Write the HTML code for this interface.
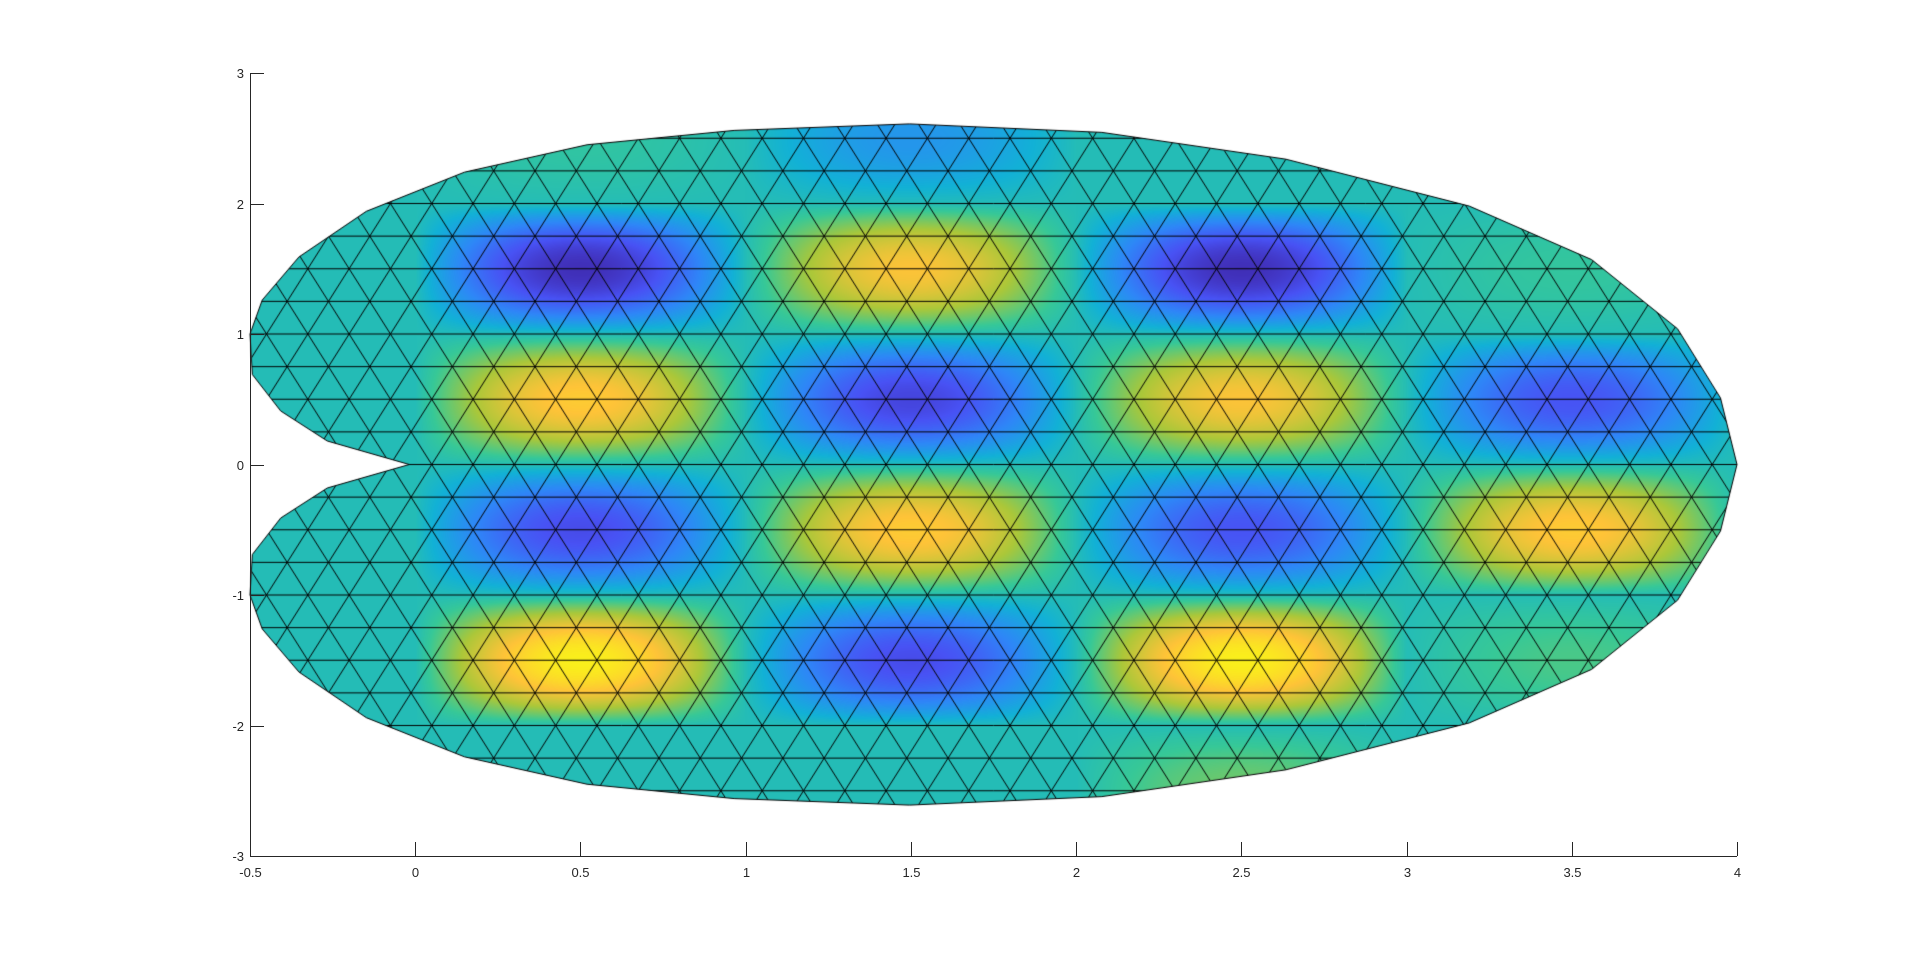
<!DOCTYPE html>
<html><head><meta charset="utf-8">
<style>
html,body{margin:0;padding:0;background:#fff;}
#wrap{position:relative;width:1920px;height:963px;overflow:hidden;}
canvas{position:absolute;left:0;top:0;}
svg{position:absolute;left:0;top:0;}
text{font-family:"Liberation Sans",sans-serif;font-size:13px;fill:#262626;}
</style></head>
<body>
<div id="wrap">
<canvas id="cv" width="1920" height="963"></canvas>
<svg id="ax" width="1920" height="963"></svg>
</div>
<script>
// ---- data ----
const xTicks = [-0.5,0,0.5,1,1.5,2,2.5,3,3.5,4];
const xTickLabels = ["-0.5","0","0.5","1","1.5","2","2.5","3","3.5","4"];
const yTicks = [-3,-2,-1,0,1,2,3];
const yTickLabels = ["-3","-2","-1","0","1","2","3"];
// upper boundary (left notch -> top -> right end), mirrored for lower half
const boundaryX = [-0.018,-0.266,-0.407,-0.493,-0.5,-0.463,-0.352,-0.148,0.149,0.52,0.965,1.496,2.078,2.634,3.19,3.56,3.82,3.95,4.0];
const boundaryY = [0,0.18,0.41,0.69,1.0,1.26,1.59,1.94,2.24,2.45,2.56,2.61,2.545,2.34,1.98,1.57,1.04,0.51,0];
// mode cell centres and amplitudes
const peakX = [0.5,1.5,2.5,3.5, 0.5,1.5,2.5,3.5, 0.5,1.5,2.5,3.5, 0.5,1.5,2.5,3.5, 0.5,1.5,2.5];
const peakY = [1.5,1.5,1.5,1.5, 0.5,0.5,0.5,0.5, -0.5,-0.5,-0.5,-0.5, -1.5,-1.5,-1.5,-1.5, 2.5,2.5,-2.5];
const peakAmp = [-1.0,0.75,-1.0,0.12, 0.8,-0.85,0.75,-0.75, -0.8,0.8,-0.75,0.8, 1.0,-0.8,1.0,0.2, 0.1,-0.35,0.3];

// ---- axes functions ----
const X0=250, X1=1737, Y0=73, Y1=856;
const xMin=-0.5,xMax=4,yMin=-3,yMax=3;
function sx(x){return X0+(x-xMin)/(xMax-xMin)*(X1-X0);}
function sy(y){return Y1-(y-yMin)/(yMax-yMin)*(Y1-Y0);}

const poly=[];
for(let i=0;i<boundaryX.length;i++) poly.push([boundaryX[i],boundaryY[i]]);
for(let i=boundaryX.length-2;i>=1;i--) poly.push([boundaryX[i],-boundaryY[i]]);

function field(x,y){
  let v=0;
  for(let k=0;k<peakX.length;k++){
    const dx=x-peakX[k], dy=y-peakY[k];
    if(Math.abs(dx)<0.5&&Math.abs(dy)<0.5){
      const c=Math.cos(Math.PI*dx)*Math.cos(Math.PI*dy);
      v+=peakAmp[k]*Math.pow(c,0.9);
    }
  }
  return v;
}
const par=[[62,38,168],[72,82,244],[46,135,247],[18,177,214],[55,200,151],[171,199,57],[254,195,56],[249,251,20]];
function cmap(t){
  t=Math.max(0,Math.min(1,t))*(par.length-1);
  const i=Math.min(par.length-2,Math.floor(t)), f=t-i;
  return par[i].map((c,j)=>c+(par[i+1][j]-c)*f);
}

const cv=document.getElementById('cv'), ctx=cv.getContext('2d');
const off=document.createElement('canvas'); off.width=1920; off.height=963;
const octx=off.getContext('2d');
const img=octx.createImageData(1920,963);
for(let py=90;py<850;py++){
  const y=yMin+(Y1-py)/(Y1-Y0)*(yMax-yMin);
  for(let px=245;px<1745;px++){
    const x=xMin+(px-X0)/(X1-X0)*(xMax-xMin);
    const c=cmap((field(x,y)+1)/2*0.94+0.03);
    const o=(py*1920+px)*4;
    img.data[o]=c[0];img.data[o+1]=c[1];img.data[o+2]=c[2];img.data[o+3]=255;
  }
}
octx.putImageData(img,0,0);

ctx.save();
ctx.beginPath();
poly.forEach((p,i)=>{const a=sx(p[0]),b=sy(p[1]); i?ctx.lineTo(a,b):ctx.moveTo(a,b);});
ctx.closePath();
ctx.clip();
ctx.drawImage(off,0,0);
// mesh
ctx.strokeStyle='#000';ctx.lineWidth=1;
ctx.beginPath();
const hx=0.125, hy=0.25;
function vx(i,k){return -0.7+i*hx+((k%2+2)%2?hx/2:0);}
for(let k=-12;k<=12;k++){
  const y=k*hy, y2=(k+1)*hy;
  ctx.moveTo(sx(-0.7),sy(y));ctx.lineTo(sx(4.2),sy(y));
  for(let i=0;i<40;i++){
    const xa=vx(i,k);
    const odd=((k%2+2)%2)===1;
    const xb1= odd? vx(i,k+1) : vx(i-1,k+1);
    const xb2= odd? vx(i+1,k+1) : vx(i,k+1);
    ctx.moveTo(sx(xa),sy(y));ctx.lineTo(sx(xb1),sy(y2));
    ctx.moveTo(sx(xa),sy(y));ctx.lineTo(sx(xb2),sy(y2));
  }
}
ctx.stroke();
ctx.restore();
ctx.beginPath();
poly.forEach((p,i)=>{const a=sx(p[0]),b=sy(p[1]); i?ctx.lineTo(a,b):ctx.moveTo(a,b);});
ctx.closePath();
ctx.strokeStyle='#000';ctx.lineWidth=1;ctx.stroke();

// ---- axes ----
const NS='http://www.w3.org/2000/svg', svg=document.getElementById('ax');
function mk(tag,attrs){const e=document.createElementNS(NS,tag);for(const k in attrs)e.setAttribute(k,attrs[k]);svg.appendChild(e);return e;}
let e=mk('line',{x1:X0,y1:Y1+0.5,x2:X1,y2:Y1+0.5,stroke:'#262626','stroke-width':1});


e=mk('line',{x1:X0+0.5,y1:Y0,x2:X0+0.5,y2:Y1,stroke:'#262626','stroke-width':1});


xTicks.forEach((t,i)=>{
  const x=Math.round(sx(t))+0.5;
  const l=mk('line',{x1:x,y1:Y1,x2:x,y2:Y1-14,stroke:'#262626','stroke-width':1});
  
  
  const tx=mk('text',{x:x,y:Y1+21,'text-anchor':'middle'});
  tx.textContent=xTickLabels[i];
  
  
});
yTicks.forEach((t,i)=>{
  const y=Math.round(sy(t))+0.5;
  const l=mk('line',{x1:X0,y1:y,x2:X0+14,y2:y,stroke:'#262626','stroke-width':1});
  
  
  const tx=mk('text',{x:X0-6,y:y+4.5,'text-anchor':'end'});
  tx.textContent=yTickLabels[i];
  
  
});
</script>
</body></html>
